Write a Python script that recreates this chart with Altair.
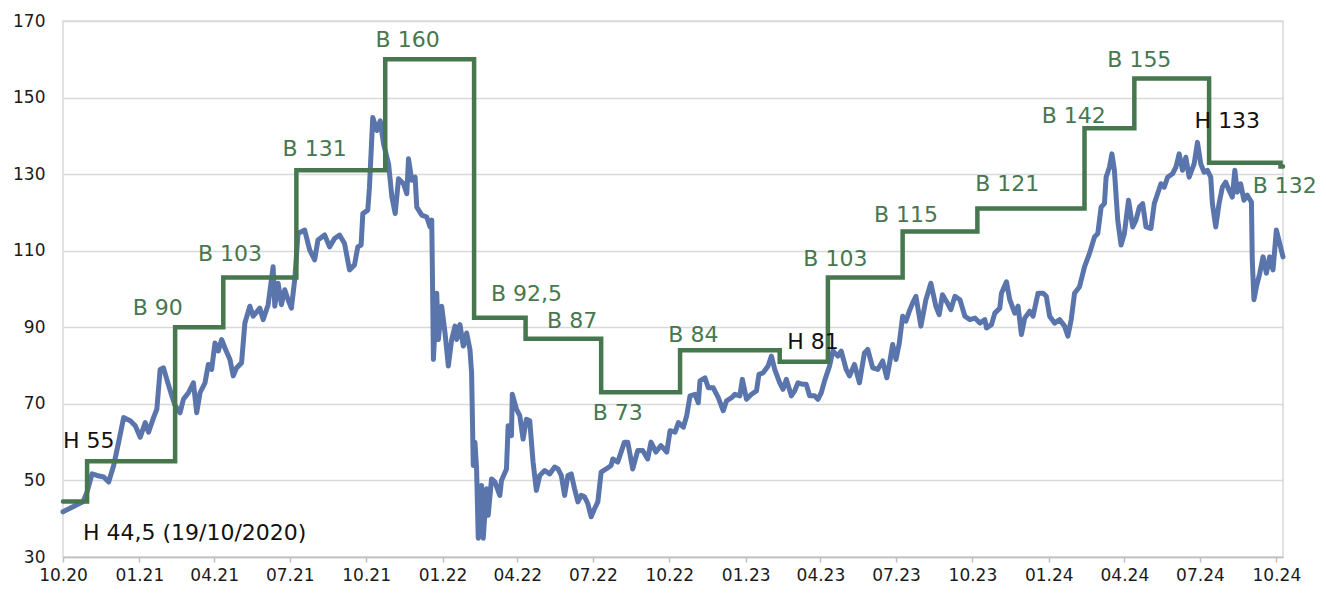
import altair as alt
import pandas as pd

START = pd.Timestamp("2020-10-19")

# Share price (days after 19/10/2020, price)
price_days = [0, 12, 24, 29, 35, 41, 49, 55, 61, 67, 73, 81, 87, 93, 99, 103, 109, 113, 117, 121,
              125, 131, 135, 141, 145, 151, 157, 161, 165, 171, 175, 179, 183, 187, 191, 195, 201, 205, 209, 215,
              219, 225, 229, 237, 241, 247, 253, 255, 259, 263, 267, 271, 275, 279, 283, 291, 297, 303, 307, 315,
              321, 327, 333, 339, 345, 351, 355, 359, 361, 367, 369, 373, 378, 382, 386, 392, 396, 400, 404, 410,
              414, 416, 420, 424, 426, 432, 438, 442, 444, 445, 446, 450, 452, 456, 460, 464, 468, 472, 474, 478,
              482, 486, 490, 492, 494, 496, 498, 500, 504, 506, 510, 512, 516, 520, 526, 528, 534, 536, 540, 541,
              546, 550, 554, 558, 562, 566, 570, 574, 580, 586, 592, 596, 600, 604, 608, 612, 616, 620, 624, 628,
              632, 636, 640, 644, 648, 654, 660, 662, 668, 672, 676, 680, 686, 692, 698, 704, 708, 714, 720, 727,
              731, 737, 741, 747, 751, 755, 761, 765, 767, 773, 777, 783, 789, 795, 799, 805, 809, 815, 818, 823,
              829, 835, 838, 843, 849, 853, 857, 863, 867, 871, 877, 881, 885, 891, 895, 899, 905, 909, 913, 917,
              923, 927, 933, 937, 943, 947, 953, 959, 965, 969, 975, 981, 987, 992, 995, 999, 1003, 1007, 1011, 1015,
              1019, 1023, 1027, 1033, 1039, 1045, 1051, 1055, 1059, 1065, 1069, 1074, 1080, 1086, 1092, 1098, 1104, 1110, 1112, 1118,
              1122, 1128, 1130, 1136, 1140, 1146, 1150, 1154, 1158, 1164, 1168, 1174, 1180, 1184, 1188, 1194, 1200, 1206, 1210, 1214,
              1218, 1224, 1230, 1236, 1242, 1246, 1250, 1254, 1256, 1260, 1263, 1266, 1270, 1274, 1278, 1283, 1288, 1292, 1296, 1300,
              1304, 1310, 1314, 1318, 1322, 1326, 1330, 1336, 1340, 1344, 1348, 1352, 1356, 1362, 1366, 1370, 1374, 1378, 1382, 1384,
              1388, 1392, 1396, 1400, 1404, 1408, 1411, 1414, 1418, 1422, 1426, 1431, 1432, 1434, 1437, 1441, 1445, 1449, 1453, 1457,
              1461, 1465, 1469]
price_vals = [41.8, 43.1, 44.4, 47.0, 51.7, 51.3, 50.9, 49.6, 53.9, 60.0, 66.4, 65.6, 64.3, 61.3, 65.1, 62.6, 66.4, 68.6, 79.0, 79.4,
              76.4, 72.1, 69.5, 67.7, 71.2, 72.9, 75.5, 67.7, 72.9, 75.5, 80.3, 79.0, 85.9, 83.8, 86.8, 84.6, 81.6, 77.3, 79.4, 80.7,
              91.1, 95.5, 92.9, 95.0, 92.0, 95.9, 105.8, 95.5, 101.5, 95.9, 99.8, 97.2, 95.0, 102.4, 114.5, 115.4, 110.2, 107.6, 112.8, 114.1,
              111.0, 113.2, 114.1, 111.9, 105.0, 106.3, 111.0, 111.5, 119.7, 120.6, 126.6, 144.8, 141.4, 143.9, 137.9, 132.7, 124.0, 119.7, 128.8, 127.5,
              124.9, 134.0, 128.4, 129.2, 121.4, 119.3, 118.8, 116.2, 118.0, 100.6, 81.6, 98.9, 86.8, 95.5, 88.5, 79.9, 86.8, 90.3, 86.8, 90.7,
              85.1, 88.5, 84.2, 78.1, 53.9, 60.0, 53.0, 34.9, 48.7, 34.9, 47.8, 40.9, 50.4, 49.6, 46.1, 50.0, 53.0, 64.3, 61.7, 72.5,
              68.6, 66.9, 60.8, 66.0, 65.6, 54.8, 47.4, 51.3, 52.6, 51.7, 53.5, 53.0, 51.3, 46.1, 51.3, 51.7, 47.8, 44.4, 46.1, 45.7,
              43.9, 40.5, 42.6, 44.4, 52.2, 53.0, 53.9, 55.6, 54.8, 57.4, 60.0, 60.0, 53.0, 57.8, 57.8, 55.6, 60.0, 57.4, 59.1, 57.4,
              63.0, 62.6, 65.1, 63.9, 66.9, 72.1, 72.5, 70.3, 76.0, 76.8, 74.2, 74.2, 71.6, 68.2, 70.8, 71.6, 72.5, 72.1, 76.4, 71.2,
              72.5, 73.4, 77.7, 78.1, 79.9, 82.5, 79.0, 75.5, 73.8, 76.4, 72.1, 73.4, 75.5, 75.1, 75.1, 72.1, 72.1, 71.2, 72.9, 76.0,
              79.9, 83.8, 82.5, 83.8, 79.0, 77.3, 80.3, 75.5, 83.3, 84.2, 79.4, 79.0, 81.2, 76.8, 80.3, 85.5, 81.6, 85.9, 92.9, 91.6,
              94.2, 96.3, 98.1, 90.3, 97.2, 101.5, 95.5, 93.3, 98.5, 96.3, 94.6, 98.1, 97.2, 92.9, 92.0, 92.4, 91.1, 92.0, 89.8, 90.7,
              93.7, 95.0, 98.9, 101.9, 97.2, 93.7, 95.5, 88.1, 92.4, 94.2, 92.9, 98.9, 98.9, 98.1, 92.9, 91.1, 92.0, 90.3, 87.7, 92.0,
              98.9, 100.6, 105.8, 109.3, 113.6, 114.5, 121.4, 122.3, 129.2, 131.8, 135.3, 131.0, 118.0, 111.5, 114.5, 123.2, 116.2, 118.0, 121.4, 122.3,
              116.2, 115.8, 122.3, 124.9, 127.5, 126.6, 129.2, 130.1, 131.8, 135.3, 131.0, 134.4, 129.2, 132.7, 138.3, 132.7, 130.5, 131.0, 129.2, 122.3,
              116.2, 122.3, 126.6, 127.9, 125.8, 124.0, 131.0, 125.3, 127.5, 123.2, 124.5, 122.7, 107.6, 97.2, 100.6, 104.1, 108.4, 104.1, 108.4, 105.0,
              115.4, 111.9, 108.4]

# Target price steps (day of change, new target)
target_days = [0, 29, 135, 193, 281, 388, 495, 557, 648, 743, 863, 921, 1011, 1101, 1230, 1290, 1380, 1466, 1469]
target_vals = [44.5, 55, 90, 103, 131, 160, 92.5, 87, 73, 84, 81, 103, 115, 121, 142, 155, 133, 132, 132]

# Green labels (B = buy) placed at (day, value), centred
green_labels = ["B 90", "B 103", "B 131", "B 160", "B 92,5", "B 87", "B 73", "B 84",
                "B 103", "B 115", "B 121", "B 142", "B 155", "B 132"]
green_days = [114, 201, 303, 415, 558, 613, 668, 759, 930, 1015, 1137, 1217, 1296, 1471]
green_vals = [95.0, 109.2, 136.5, 165.1, 98.6, 91.6, 67.5, 87.9, 107.9, 119.4, 127.4, 145.3, 159.9, 126.9]

# Black labels (H = hold), centred
black_c_labels = ["H 81", "H 133"]
black_c_days = [903, 1402]
black_c_vals = [86.2, 143.8]

# Black labels, left aligned
black_l_labels = ["H 55", "H 44,5 (19/10/2020)"]
black_l_days = [0, 24]
black_l_vals = [60.2, 36.2]

quarter_ticks = [(2020 + (9 + 3 * i) // 12, (9 + 3 * i) % 12 + 1) for i in range(17)]

GREEN = "#46774E"
BLUE = "#5A74AC"
FONT = "DejaVu Sans"


def dates(days):
    return [START + pd.Timedelta(days=d) for d in days]


price_df = pd.DataFrame({"date": dates(price_days), "price": price_vals})
target_df = pd.DataFrame({"date": dates(target_days), "price": target_vals})
green_df = pd.DataFrame({"date": dates(green_days), "price": green_vals, "label": green_labels})
blackc_df = pd.DataFrame({"date": dates(black_c_days), "price": black_c_vals, "label": black_c_labels})
blackl_df = pd.DataFrame({"date": dates(black_l_days), "price": black_l_vals, "label": black_l_labels})

x_scale = alt.Scale(domain=[alt.DateTime(year=2020, month=10, date=19),
                            alt.DateTime(year=2024, month=10, date=27)])
y_scale = alt.Scale(domain=[30, 170], nice=False, zero=False)

x_axis = alt.Axis(
    values=[alt.DateTime(year=y, month=m, date=19) for y, m in quarter_ticks],
    format="%m.%y", grid=False, tickSize=5, labelPadding=5, title=None,
    labelFlush=False, labelOverlap=False, domainColor="#bfbfbf", tickColor="#bfbfbf",
    domainWidth=1.5, tickWidth=1.5,
)
y_axis = alt.Axis(values=list(range(30, 171, 20)), ticks=False, domain=False,
                  labelPadding=18, title=None, gridColor="#d9d9d9", gridWidth=1.5)

X = alt.X("date:T", scale=x_scale, axis=x_axis)
Y = alt.Y("price:Q", scale=y_scale, axis=y_axis)

price_line = alt.Chart(price_df).mark_line(
    color=BLUE, strokeWidth=5, strokeJoin="round", strokeCap="round"
).encode(x=X, y=Y)

target_line = alt.Chart(target_df).mark_line(
    color=GREEN, strokeWidth=4.5, interpolate="step-after", strokeCap="round"
).encode(x="date:T", y="price:Q")

green_text = alt.Chart(green_df).mark_text(
    font=FONT, fontSize=22, color=GREEN, align="center", baseline="middle"
).encode(x="date:T", y="price:Q", text="label:N")

blackc_text = alt.Chart(blackc_df).mark_text(
    font=FONT, fontSize=22, color="#111111", align="center", baseline="middle"
).encode(x="date:T", y="price:Q", text="label:N")

blackl_text = alt.Chart(blackl_df).mark_text(
    font=FONT, fontSize=22, color="#111111", align="left", baseline="middle"
).encode(x="date:T", y="price:Q", text="label:N")

chart = alt.layer(price_line, target_line, green_text, blackc_text, blackl_text).properties(
    width=1220, height=536,
    autosize=alt.AutoSizeParams(type="none"),
    padding={"left": 55, "top": 13, "right": 35, "bottom": 30},
).configure_view(
    stroke="#d9d9d9", strokeWidth=1.5
).configure_axis(
    labelFont=FONT, labelFontSize=17, labelColor="#1a1a1a"
)

chart.save("out.html", embed_options={"renderer": "svg", "actions": False})
